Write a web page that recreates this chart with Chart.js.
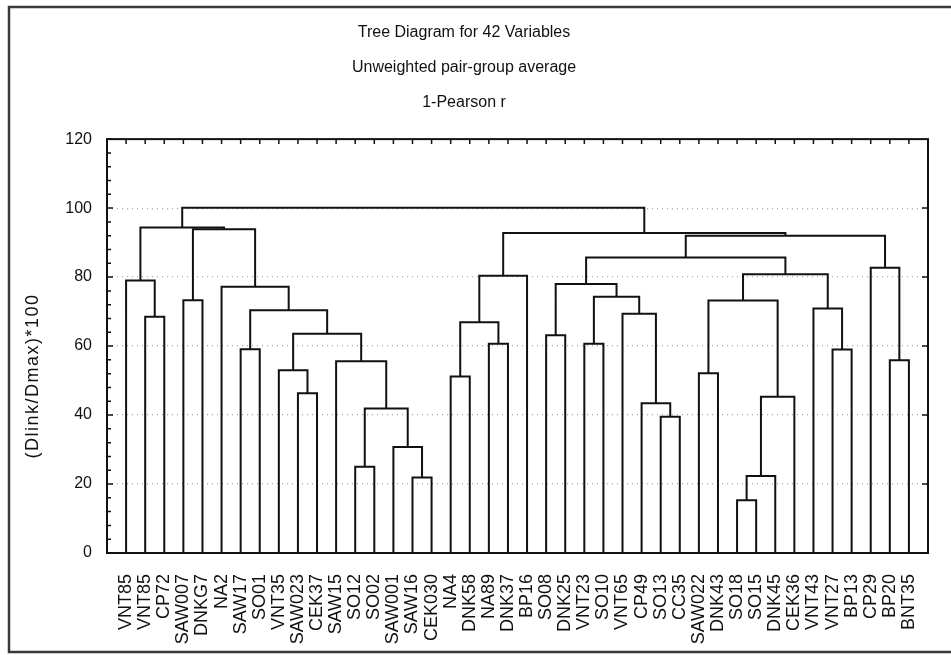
<!DOCTYPE html>
<html>
<head>
<meta charset="utf-8">
<title>Tree Diagram for 42 Variables</title>
<script src="https://cdn.jsdelivr.net/npm/chart.js@4.4.1/dist/chart.umd.min.js"></script>
<style>
  body { margin: 0; background: #fff; }
  #wrap { width: 951px; height: 655px; position: relative; }
</style>
</head>
<body>
<div id="wrap"><canvas id="tree"></canvas></div>
<script>
// leaves, left to right
const leafLabels = [
  'VNT85', 'VNT85', 'CP72', 'SAW007', 'DNKG7', 'NA2', 'SAW17', 'SO01', 'VNT35', 'SAW023',
  'CEK37', 'SAW15', 'SO12', 'SO02', 'SAW001', 'SAW16', 'CEK030', 'NA4', 'DNK58', 'NA89',
  'DNK37', 'BP16', 'SO08', 'DNK25', 'VNT23', 'SO10', 'VNT65', 'CP49', 'SO13', 'CC35',
  'SAW022', 'DNK43', 'SO18', 'SO15', 'DNK45', 'CEK36', 'VNT43', 'VNT27', 'BP13', 'CP29',
  'BP20', 'BNT35'
];

// joins: ids 0..41 are leaves, 42+k is the cluster made by join k
const mergeLeft = [
  15, 14, 12, 44, 11, 9, 8, 48, 6, 50, 5, 3, 53, 1, 0, 56,
  17, 19, 58, 60, 22, 24, 28, 27, 26, 63, 62, 32, 69, 70, 30, 72,
  37, 36, 73, 68, 40, 39, 77, 61, 57
];
const mergeRight = [
  16, 42, 13, 43, 45, 10, 47, 46, 7, 49, 51, 4, 52, 2, 55, 54,
  18, 20, 59, 21, 23, 25, 29, 64, 65, 66, 67, 33, 34, 35, 31, 71,
  38, 74, 75, 76, 41, 78, 79, 80, 81
];
const mergeHeight = [
  21.9, 30.7, 25.0, 41.9, 55.6, 46.3, 53.0, 63.6, 59.1, 70.4, 77.2, 73.3, 93.9, 68.5, 79.0, 94.4,
  51.2, 60.7, 66.9, 80.4, 63.1, 60.7, 39.5, 43.4, 69.4, 74.3, 78.0, 15.3, 22.3, 45.3, 52.1, 73.2,
  59.0, 70.9, 80.8, 85.7, 55.9, 82.7, 92.0, 92.8, 100.1
];

const yTicks = [0, 20, 40, 60, 80, 100, 120];

const nLeaves = leafLabels.length;
const posX = leafLabels.map((l, i) => i + 1);
const posY = leafLabels.map(() => 0);

const datasets = [];
mergeHeight.forEach((h, k) => {
  const a = mergeLeft[k], b = mergeRight[k];
  datasets.push({
    data: [
      { x: posX[a], y: posY[a] },
      { x: posX[a], y: h },
      { x: posX[b], y: h },
      { x: posX[b], y: posY[b] }
    ],
    showLine: true,
    borderColor: '#111',
    borderWidth: 2,
    pointRadius: 0,
    tension: 0
  });
  posX[nLeaves + k] = (posX[a] + posX[b]) / 2;
  posY[nLeaves + k] = h;
});

// page border, plot frame, inward tick marks, y title
const framePlugin = {
  id: 'framePlugin',
  beforeDraw(chart) {
    const ctx = chart.ctx;
    ctx.save();
    ctx.fillStyle = '#fff';
    ctx.fillRect(0, 0, chart.width, chart.height);
    ctx.strokeStyle = '#3a3a3a';
    ctx.lineWidth = 2.5;
    ctx.strokeRect(9, 7, 1000, 645);
    ctx.restore();
  },
  afterDatasetsDraw(chart) {
    const { ctx, chartArea: a, scales: { x, y } } = chart;
    ctx.save();
    ctx.strokeStyle = '#111';
    ctx.lineWidth = 2;
    ctx.strokeRect(a.left, a.top, a.right - a.left, a.bottom - a.top);
    ctx.lineWidth = 1.5;
    ctx.beginPath();
    for (let v = 0; v <= 120; v += 4) {
      const py = y.getPixelForValue(v);
      ctx.moveTo(a.left, py);
      ctx.lineTo(a.left + (v % 20 === 0 ? 6 : 4), py);
    }
    yTicks.forEach(v => {
      if (v === 0 || v === 120) return;
      const py = y.getPixelForValue(v);
      ctx.moveTo(a.right, py);
      ctx.lineTo(a.right - 6, py);
    });
    leafLabels.forEach((l, i) => {
      const px = x.getPixelForValue(i + 1);
      ctx.moveTo(px, a.top);
      ctx.lineTo(px, a.top + 5);
    });
    ctx.stroke();

    // axis title sits a bit below the middle in the original
    ctx.translate(33, 376);
    ctx.rotate(-Math.PI / 2);
    ctx.fillStyle = '#111';
    ctx.font = '18px "Liberation Sans", Arial, sans-serif';
    ctx.letterSpacing = '1.5px';
    ctx.textAlign = 'center';
    ctx.textBaseline = 'middle';
    ctx.fillText('(Dlink/Dmax)*100', 0, 0);
    ctx.restore();
  }
};

new Chart(document.getElementById('tree'), {
  type: 'scatter',
  data: { datasets: datasets },
  plugins: [framePlugin],
  options: {
    responsive: true,
    maintainAspectRatio: false,
    animation: false,
    events: [],
    layout: { padding: { left: 0, right: 23, top: 0, bottom: 0 } },
    plugins: {
      legend: { display: false },
      tooltip: { enabled: false },
      title: {
        display: true,
        text: ['Tree Diagram for 42 Variables', 'Unweighted pair-group average', '1-Pearson r'],
        color: '#111',
        font: { family: '"Liberation Sans", Arial, sans-serif', size: 16, weight: 'normal', lineHeight: 2.19 },
        padding: { top: 15, bottom: 19 }
      }
    },
    scales: {
      x: {
        type: 'linear',
        min: 0,
        max: nLeaves + 1,
        afterBuildTicks(scale) {
          scale.ticks = leafLabels.map((l, i) => ({ value: i + 1 }));
        },
        afterFit(scale) { scale.height = 102; },
        grid: { display: false },
        border: { display: false },
        ticks: {
          autoSkip: false,
          minRotation: 90,
          maxRotation: 90,
          padding: 13,
          color: '#111',
          font: { family: '"Liberation Sans", Arial, sans-serif', size: 18 },
          callback: v => leafLabels[v - 1] || ''
        }
      },
      y: {
        min: 0,
        max: 120,
        afterBuildTicks(scale) {
          scale.ticks = yTicks.map(v => ({ value: v }));
        },
        afterFit(scale) { scale.width = 107; },
        border: { display: false, dash: [1, 4] },
        grid: {
          drawTicks: false,
          lineWidth: 1.2,
          color: c => (c.tick && c.tick.value > 0 && c.tick.value < 120) ? '#a8a8a8' : 'rgba(0,0,0,0)'
        },
        ticks: {
          padding: 15,
          color: '#111',
          font: { family: '"Liberation Sans", Arial, sans-serif', size: 16 }
        }
      }
    }
  }
});
</script>
</body>
</html>
